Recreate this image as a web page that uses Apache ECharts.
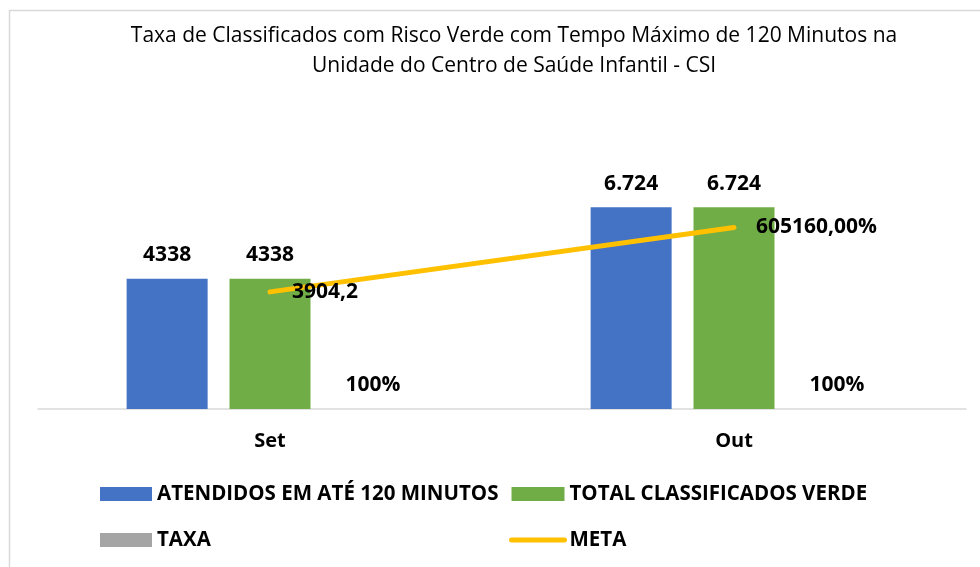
<!DOCTYPE html>
<html>
<head>
<meta charset="utf-8">
<script src="https://cdn.jsdelivr.net/npm/echarts@6/dist/echarts.min.js"></script>
<style>html,body{margin:0;padding:0;background:#fff}#c{width:980px;height:567px}</style>
</head>
<body>
<div id="c"></div>
<script>
const categories = ['Set', 'Out'];
const atendidos = [4338, 6724];
const totalVerde = [4338, 6724];
const taxa = [1, 1];
const meta = [3904.2, 6051.6];
const atendidosLabels = ['4338', '6.724'];
const totalVerdeLabels = ['4338', '6.724'];
const taxaLabels = ['100%', '100%'];
const metaLabels = ['3904,2', '605160,00%'];

const FONT = 'Open Sans';
const chart = echarts.init(document.getElementById('c'));
const lbl = (arr) => ({
  show: true, position: 'top', distance: 13, color: '#000',
  fontFamily: FONT, fontWeight: 'bold', fontSize: 21,
  formatter: (p) => arr[p.dataIndex]
});
const legendText = { fontFamily: FONT, fontWeight: 'bold', fontSize: 20.5, color: '#000', lineHeight: 22 };
chart.setOption({
  animation: false,
  backgroundColor: '#fff',
  textStyle: { fontFamily: FONT },
  graphic: [{
    type: 'rect', shape: { x: 9.5, y: 10.5, width: 1000, height: 600 },
    style: { fill: 'none', stroke: '#d9d9d9', lineWidth: 1.5 }, silent: true
  }],
  title: {
    text: 'Taxa de Classificados com Risco Verde com Tempo Máximo de 120 Minutos na\nUnidade do Centro de Saúde Infantil - CSI',
    left: 509, top: 16, textAlign: 'center',
    textStyle: { fontFamily: FONT, fontWeight: 'normal', fontSize: 21, lineHeight: 30, color: '#000' }
  },
  legend: [{
    orient: 'vertical', left: 95, top: 478,
    itemWidth: 52, itemHeight: 14, itemGap: 24,
    data: [{ name: 'ATENDIDOS EM ATÉ 120 MINUTOS', icon: 'rect' }, { name: 'TAXA', icon: 'rect' }],
    textStyle: legendText
  }, {
    orient: 'vertical', left: 504, top: 478,
    itemWidth: 53, itemHeight: 14, itemGap: 24,
    data: [{ name: 'TOTAL CLASSIFICADOS VERDE', icon: 'rect' },
           { name: 'META', itemStyle: { opacity: 0 }, lineStyle: { width: 5, cap: 'round', color: '#FFC000' } }],
    textStyle: legendText
  }],
  grid: { left: 38, width: 928, top: 109, height: 300 },
  xAxis: {
    type: 'category', data: categories,
    axisLine: { lineStyle: { color: '#d9d9d9', width: 1.5 } },
    axisTick: { show: false },
    axisLabel: { color: '#000', fontFamily: FONT, fontWeight: 'bold', fontSize: 20, margin: 22 }
  },
  yAxis: {
    type: 'value', min: 0, max: 10000, show: false, splitLine: { show: false }
  },
  series: [{
    name: 'ATENDIDOS EM ATÉ 120 MINUTOS', type: 'bar', data: atendidos,
    barWidth: 81, barGap: '27%', itemStyle: { color: '#4472C4' }, label: lbl(atendidosLabels)
  }, {
    name: 'TOTAL CLASSIFICADOS VERDE', type: 'bar', data: totalVerde,
    barWidth: 81, barGap: '27%', itemStyle: { color: '#70AD47' }, label: lbl(totalVerdeLabels)
  }, {
    name: 'TAXA', type: 'bar', data: taxa,
    barWidth: 81, barGap: '27%', itemStyle: { color: '#A5A5A5' }, label: lbl(taxaLabels)
  }, {
    name: 'META', type: 'line', data: meta, symbol: 'circle', symbolSize: 0, showSymbol: true, z: 5,
    lineStyle: { color: '#FFC000', width: 5, cap: 'round' }, itemStyle: { color: '#FFC000' },
    label: { show: true, position: 'right', distance: 22, color: '#000', fontFamily: FONT, fontWeight: 'bold', fontSize: 21,
      formatter: (p) => metaLabels[p.dataIndex] }
  }]
});
</script>
</body>
</html>
